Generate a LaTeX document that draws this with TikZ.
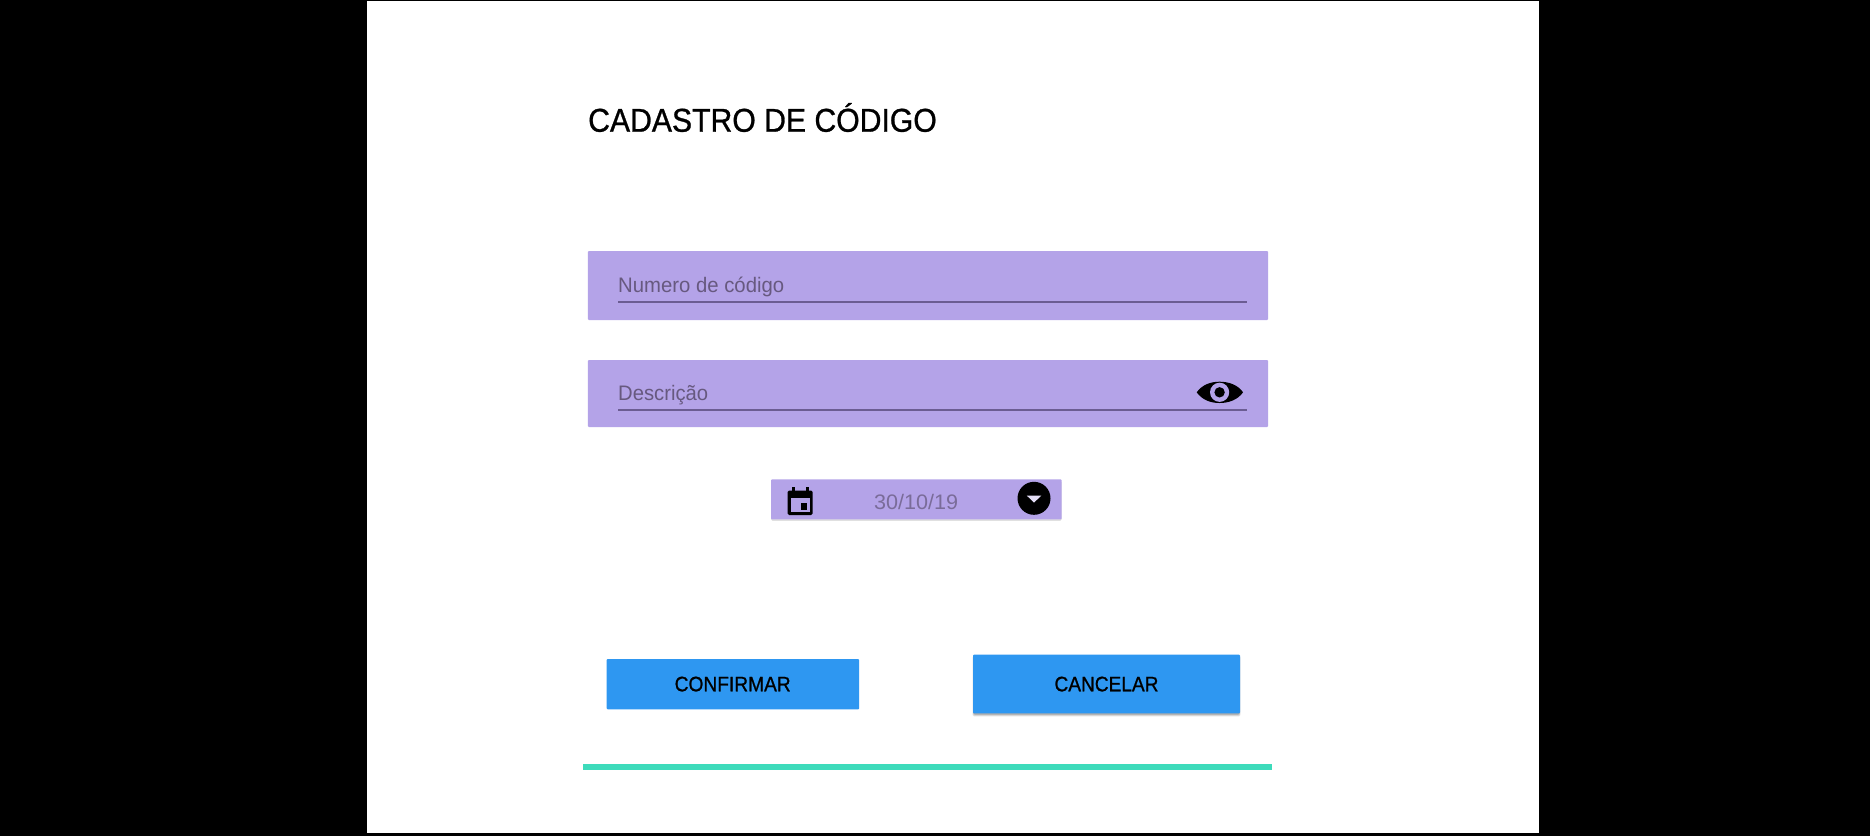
\documentclass[tikz,border=0pt]{standalone}
\usepackage{fontspec}
\setmainfont{Liberation Sans}
\newfontfamily\medfont[FakeBold=0.9]{Liberation Sans}
\definecolor{fieldpurple}{HTML}{B4A3E8}
\definecolor{fieldtext}{HTML}{67597F}
\definecolor{fieldline}{HTML}{6B5C92}
\definecolor{btnblue}{HTML}{2E97F1}
\definecolor{tealbar}{HTML}{3DDBBB}
\newcommand{\fitw}[2]{\resizebox{#1}{\height}{#2}}
\tikzset{
  panelbox/.style={fill=white,draw=none,inner sep=0pt,outer sep=0pt,anchor=north west},
  fieldbox/.style={fill=fieldpurple,draw=none,inner sep=0pt,outer sep=0pt,anchor=north west,rounded corners=1pt},
  btnbox/.style={fill=btnblue,draw=none,inner sep=0pt,outer sep=0pt,anchor=north west,rounded corners=1pt},
  fieldlabel/.style={text=fieldtext,inner sep=0pt,anchor=base west,font=\fontsize{21}{25}\selectfont},
  btnlabel/.style={text=black,inner sep=0pt,anchor=base,font=\medfont\fontsize{21}{25}\selectfont},
  underln/.style={draw=fieldline,line width=2pt},
  softshade/.style={fill=black,opacity=.12,rounded corners=1.5pt},
}
\begin{document}
\begin{tikzpicture}[x=1pt,y=-1pt]
\useasboundingbox (0,0) rectangle (1870,836);
\fill[black] (0,0) rectangle (1870,836);
\node[panelbox,minimum width=1172.3pt,minimum height=832.3pt] (panel) at (366.7,1) {};
\node[inner sep=0pt,anchor=base west,font=\medfont\fontsize{33}{40}\selectfont] (title) at (588,131.7) {\fitw{348.6pt}{CADASTRO DE CÓDIGO}};
% field 1
\node[fieldbox,minimum width=680.2pt,minimum height=69pt] (f1) at (587.8,251) {};
\node[fieldlabel] (f1t) at (618,292.3) {\fitw{166pt}{Numero de código}};
\coordinate (f1a) at (618,301.7);
\coordinate (f1b) at (1247,301.7);
\draw[underln] (f1a) -- (f1b);
% field 2
\node[fieldbox,minimum width=680.2pt,minimum height=67pt] (f2) at (587.8,360) {};
\node[fieldlabel] (f2t) at (618,400) {\fitw{90pt}{Descrição}};
\coordinate (f2a) at (618,410.3);
\coordinate (f2b) at (1247,410.3);
\draw[underln] (f2a) -- (f2b);
% eye
\coordinate (eye) at (1219.6,392.3);
\fill[black] (1196.7,392.3) .. controls (1202,385) and (1210,381.7) .. (1219.6,381.7) .. controls (1229,381.7) and (1238,385) .. (1243,392.3) .. controls (1238,399.6) and (1229,403) .. (1219.6,403) .. controls (1210,403) and (1202,399.6) .. (1196.7,392.3) -- cycle;
\fill[fieldpurple] (eye) circle (9.6);
\fill[black] (eye) circle (5.2);
% date
\fill[softshade] (771,481) rectangle (1061.7,520.8);
\node[fieldbox,minimum width=290.7pt,minimum height=40pt] (d) at (771,479.3) {};
\node[inner sep=0pt,anchor=base west,text=fieldtext!75!fieldpurple,font=\fontsize{21}{25}\selectfont] (dt) at (874,509.3) {\fitw{84pt}{30/10/19}};
% calendar icon
\fill[black,rounded corners=1.5pt] (787.7,490.5) rectangle (812.7,515);
\fill[black] (792,487) rectangle (795,492);
\fill[black] (805.5,487) rectangle (808.5,492);
\fill[fieldpurple] (790.7,497.5) rectangle (809.7,512);
\fill[black] (800.5,502.5) rectangle (807,509.5);
% dropdown
\node[circle,fill=black,inner sep=0pt,minimum size=33pt] (dd) at (1034,498.3) {};
\fill[fieldpurple!35!white] (1026.8,495.6) -- (1041.3,495.6) -- (1034,502.6) -- cycle;
% buttons
\node[btnbox,minimum width=252.6pt,minimum height=50.3pt] (ok) at (606.6,659) {};
\node[btnlabel] (okt) at (732.7,691.3) {\fitw{116pt}{CONFIRMAR}};
\fill[softshade] (972.6,656) rectangle (1240.4,716.4);
\fill[softshade] (973,656) rectangle (1240,715.4);
\fill[softshade] (973.4,656) rectangle (1239.6,714.6);
\node[btnbox,minimum width=267pt,minimum height=58.6pt] (no) at (973,654.7) {};
\node[btnlabel] (not) at (1106.5,691.3) {\fitw{104pt}{CANCELAR}};
% bar
\node[fill=tealbar,inner sep=0pt,anchor=north west,minimum width=688.6pt,minimum height=5.3pt] (bar) at (583.2,764) {};
\end{tikzpicture}
\end{document}
